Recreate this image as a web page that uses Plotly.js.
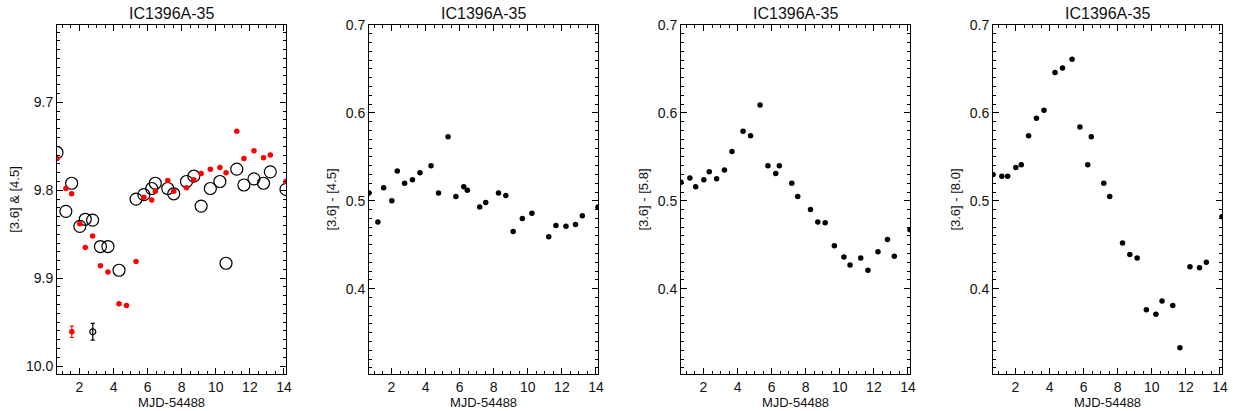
<!DOCTYPE html>
<html>
<head>
<meta charset="utf-8">
<script src="https://cdn.plot.ly/plotly-3.0.1.min.js"></script>
<style>html,body{margin:0;padding:0;background:#fff;}#chart{width:1233px;height:411px;}</style>
</head>
<body>
<div id="chart"></div>
<script>
// ---- data ----
const tAll = [0.68, 1.20, 1.54, 2.02, 2.34, 2.77, 3.23, 3.67, 4.32, 4.76, 5.32, 5.78, 6.24, 6.45, 7.18, 7.53, 8.28, 8.71, 9.14, 9.68, 10.24, 10.60, 11.23, 11.65, 12.24, 12.80, 13.20, 14.12];
const tBlack = [0.68, 1.20, 1.54, 2.02, 2.34, 2.77, 3.23, 3.67, 4.32, 5.32, 5.78, 6.24, 6.45, 7.18, 7.53, 8.28, 8.71, 9.14, 9.68, 10.24, 10.60, 11.23, 11.65, 12.24, 12.80, 13.20, 14.12];
const tColor45 = [0.68, 1.20, 1.54, 2.02, 2.34, 2.77, 3.23, 3.67, 4.32, 4.76, 5.32, 5.78, 6.24, 6.45, 7.18, 7.53, 8.28, 8.71, 9.14, 9.68, 10.24, 11.23, 11.65, 12.24, 12.80, 13.20, 14.12];

const magRed = [9.764, 9.798, 9.804, 9.838, 9.865, 9.852, 9.886, 9.893, 9.929, 9.931, 9.881, 9.808, 9.811, 9.801, 9.789, 9.801, 9.797, 9.788, 9.781, 9.776, 9.774, 9.780, 9.733, 9.764, 9.755, 9.763, 9.760, 9.790];
const magBlack = [9.757, 9.824, 9.792, 9.841, 9.833, 9.834, 9.864, 9.864, 9.891, 9.810, 9.805, 9.798, 9.792, 9.798, 9.804, 9.790, 9.784, 9.818, 9.798, 9.790, 9.883, 9.776, 9.794, 9.787, 9.792, 9.779, 9.799];

const color36_45 = [0.509, 0.476, 0.515, 0.500, 0.534, 0.520, 0.524, 0.532, 0.540, 0.509, 0.573, 0.505, 0.516, 0.512, 0.493, 0.498, 0.509, 0.506, 0.465, 0.480, 0.486, 0.459, 0.472, 0.471, 0.473, 0.483, 0.493];
const color36_58 = [0.521, 0.526, 0.516, 0.524, 0.533, 0.525, 0.535, 0.556, 0.579, 0.574, 0.609, 0.540, 0.531, 0.540, 0.520, 0.505, 0.490, 0.476, 0.475, 0.449, 0.436, 0.427, 0.435, 0.421, 0.442, 0.456, 0.437, 0.467];
const color36_80 = [0.530, 0.528, 0.528, 0.538, 0.541, 0.574, 0.594, 0.603, 0.646, 0.651, 0.661, 0.584, 0.541, 0.573, 0.520, 0.505, 0.452, 0.439, 0.435, 0.376, 0.371, 0.386, 0.381, 0.333, 0.425, 0.424, 0.430, 0.482];

// typical error samples
const errRedX = [1.55], errRedY = [9.961], errRedE = [0.0065];
const errBlackX = [2.78], errBlackY = [9.961], errBlackE = [0.0095];

const panelTitle = 'IC1396A-35';
const xTitle = 'MJD-54488';
const yTitles = ['[3.6] & [4.5]', '[3.6] - [4.5]', '[3.6] - [5.8]', '[3.6] - [8.0]'];
const xTickVals = [2, 4, 6, 8, 10, 12, 14];

// ---- layout ----
const W = 1233, H = 411;
const FONT = 'Liberation Sans, Arial, Helvetica, sans-serif';
const panelsPx = [[57, 286], [369, 598], [681, 910], [993, 1222]];
const yDom = [1 - 374 / H, 1 - 25 / H];

function xAxis(i) {
  return {
    domain: [panelsPx[i][0] / W, panelsPx[i][1] / W],
    anchor: 'y' + (i === 0 ? '' : i + 1),
    range: [0.68, 14.12],
    tickmode: 'array', tickvals: xTickVals,
    ticks: 'inside', ticklen: 6, tickwidth: 1, tickcolor: '#000',
    minor: {dtick: 0.5, tick0: 0, ticks: 'inside', ticklen: 3, tickwidth: 1, tickcolor: '#000'},
    showline: true, linecolor: '#000', linewidth: 1, mirror: 'ticks',
    showgrid: false, zeroline: false,
    tickfont: {family: FONT, size: 14, color: '#111'},
    title: {text: xTitle, font: {family: FONT, size: 13, color: '#111'}, standoff: 0},
    automargin: false
  };
}
function yAxis(i) {
  const a = {
    domain: yDom,
    anchor: 'x' + (i === 0 ? '' : i + 1),
    ticks: 'inside', ticklen: 6, tickwidth: 1, tickcolor: '#000',
    minor: {dtick: 0.01, ticks: 'inside', ticklen: 3, tickwidth: 1, tickcolor: '#000'},
    showline: true, linecolor: '#000', linewidth: 1, mirror: 'ticks',
    showgrid: false, zeroline: false,
    tickfont: {family: FONT, size: 14, color: '#111'},
    title: {text: yTitles[i], font: {family: FONT, size: 13, color: '#111'}, standoff: 6},
    automargin: false
  };
  if (i === 0) {
    a.range = [10.009, 9.612];
    a.tickvals = [9.7, 9.8, 9.9, 10.0];
    a.ticktext = ['9.7', '9.8', '9.9', '10.0'];
    a.tickmode = 'array';
    a.minor.tick0 = 9.6;
    a.title.standoff = 3;
  } else {
    a.range = [0.303, 0.7];
    a.tickmode = 'array';
    a.tickvals = [0.4, 0.5, 0.6, 0.7];
    a.ticktext = ['0.4', '0.5', '0.6', '0.7'];
    a.minor.tick0 = 0.3;
  }
  return a;
}

const dot = (c, s) => ({color: c, size: s, line: {width: 0}});
const traces = [
  {x: tBlack, y: magBlack, xaxis: 'x', yaxis: 'y', mode: 'markers', type: 'scatter',
   marker: {symbol: 'circle-open', size: 12, color: '#000', line: {width: 1.2, color: '#000'}}},
  {x: tAll, y: magRed, xaxis: 'x', yaxis: 'y', mode: 'markers', type: 'scatter', marker: dot('#ff0000', 5.5)},
  {x: errRedX, y: errRedY, xaxis: 'x', yaxis: 'y', mode: 'markers', type: 'scatter', marker: dot('#ff0000', 5.5),
   error_y: {type: 'data', array: errRedE, color: '#ff0000', thickness: 1.2, width: 2}},
  {x: errBlackX, y: errBlackY, xaxis: 'x', yaxis: 'y', mode: 'markers', type: 'scatter',
   marker: {symbol: 'circle-open', size: 6, color: '#000', line: {width: 1.2, color: '#000'}},
   error_y: {type: 'data', array: errBlackE, color: '#000', thickness: 1.2, width: 2}},
  {x: tColor45, y: color36_45, xaxis: 'x2', yaxis: 'y2', mode: 'markers', type: 'scatter', marker: dot('#000', 5.5)},
  {x: tAll, y: color36_58, xaxis: 'x3', yaxis: 'y3', mode: 'markers', type: 'scatter', marker: dot('#000', 5.5)},
  {x: tAll, y: color36_80, xaxis: 'x4', yaxis: 'y4', mode: 'markers', type: 'scatter', marker: dot('#000', 5.5)}
];

const annotations = panelsPx.map(p => ({
  text: panelTitle, xref: 'paper', yref: 'paper',
  x: (p[0] + p[1]) / 2 / W, y: 1 - 13.5 / H, xanchor: 'center', yanchor: 'middle',
  showarrow: false, font: {family: FONT, size: 16, color: '#111'}
}));

const layout = {
  width: W, height: H,
  margin: {l: 0, r: 0, t: 0, b: 0, pad: 0},
  paper_bgcolor: '#fff', plot_bgcolor: '#fff',
  showlegend: false,
  font: {family: FONT},
  annotations: annotations,
  xaxis: xAxis(0), xaxis2: xAxis(1), xaxis3: xAxis(2), xaxis4: xAxis(3),
  yaxis: yAxis(0), yaxis2: yAxis(1), yaxis3: yAxis(2), yaxis4: yAxis(3)
};

Plotly.newPlot('chart', traces, layout, {staticPlot: true, displayModeBar: false});
</script>
</body>
</html>
